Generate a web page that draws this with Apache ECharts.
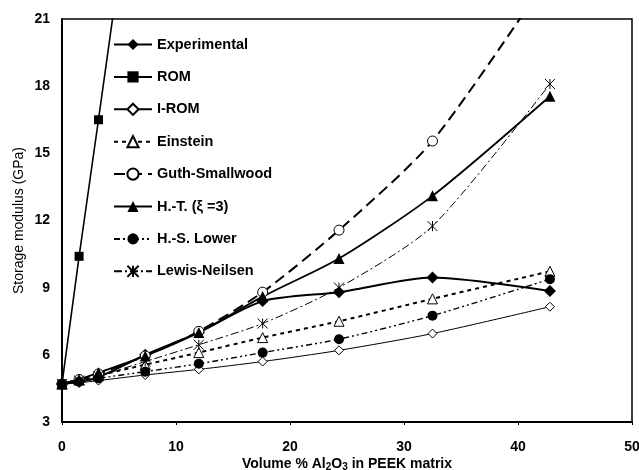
<!DOCTYPE html>
<html>
<head>
<meta charset="utf-8">
<style>
  html, body { margin: 0; padding: 0; background: #fff; }
  #chart { width: 639px; height: 470px; }
</style>
<script src="https://cdn.jsdelivr.net/npm/echarts@6/dist/echarts.min.js"></script>
</head>
<body>
<div id="chart"></div>
<script>
// volume % Al2O3 for each measured / modelled point
var volume = [0, 1.5, 3.2, 7.3, 12, 17.6, 24.3, 32.5, 42.8];

// storage modulus (GPa)
var experimental = [4.7, 4.8, 5.0, 6.0, 7.0, 8.4, 8.8, 9.45, 8.85];
var rom = [4.7, 10.4, 16.5, 31.5];
var irom = [4.7, 4.75, 4.85, 5.1, 5.35, 5.7, 6.2, 6.95, 8.15];
var einstein = [4.7, 4.88, 5.08, 5.56, 6.1, 6.77, 7.5, 8.5, 9.73];
var guth = [4.7, 4.9, 5.15, 5.95, 7.05, 8.8, 11.57, 15.55, 23.0];
var halpin = [4.7, 4.9, 5.2, 5.95, 7.0, 8.6, 10.3, 13.1, 17.55];
var hsLower = [4.7, 4.8, 4.95, 5.25, 5.6, 6.1, 6.7, 7.75, 9.38];
var lewis = [4.7, 4.85, 5.05, 5.7, 6.45, 7.4, 9.0, 11.75, 18.1];

var xTicks = [0, 10, 20, 30, 40, 50];
var yTicks = [3, 6, 9, 12, 15, 18, 21];

var font = 'Liberation Sans, Arial, sans-serif';
var asterisk = 'path://M0,0L10,10M10,0L0,10M5,0L5,10';

function pairs(vals) {
  return vals.map(function (v, i) { return [volume[i], v]; });
}

function line(name, vals, opt) {
  return {
    name: name,
    type: 'line',
    data: pairs(vals),
    smooth: opt.smooth === undefined ? 0.25 : opt.smooth,
    symbol: opt.symbol,
    symbolSize: opt.size,
    clip: true,
    lineStyle: { color: '#000', width: opt.width, type: opt.dash || 'solid' },
    itemStyle: {
      color: opt.open ? '#fff' : '#000',
      borderColor: '#000',
      borderWidth: opt.open ? 1 : 0
    },
    emphasis: { disabled: true }
  };
}

var myChart = echarts.init(document.getElementById('chart'));

myChart.setOption({
  animation: false,
  backgroundColor: '#fff',
  grid: {
    left: 62, right: 7, top: 19, bottom: 48,
    outerBoundsMode: 'none',
    show: true, borderColor: '#000', borderWidth: 1.5
  },
  legend: {
    orient: 'vertical',
    left: 108,
    top: 32,
    itemWidth: 38,
    itemHeight: 14,
    itemGap: 17.4,
    textStyle: { fontFamily: font, fontWeight: 'bold', fontSize: 14.5, color: '#000' },
    data: ['Experimental', 'ROM', 'I-ROM', 'Einstein', 'Guth-Smallwood',
      'H.-T. (ξ =3)', 'H.-S. Lower', 'Lewis-Neilsen']
  },
  xAxis: {
    type: 'value',
    min: 0, max: 50, interval: 10,
    name: 'Volume % Al{s|2}O{s|3} in PEEK matrix',
    nameLocation: 'middle',
    nameGap: 34,
    nameMoveOverlap: false,
    nameTextStyle: {
      fontFamily: font, fontWeight: 'bold', fontSize: 14, color: '#000',
      rich: { s: { fontFamily: font, fontWeight: 'bold', fontSize: 10, color: '#000', padding: [6, 0, 0, 0] } }
    },
    axisLine: { lineStyle: { color: '#000', width: 2 } },
    axisTick: { show: true, length: 3, lineStyle: { color: '#000' } },
    splitLine: { show: false },
    axisLabel: {
      margin: 18,
      fontFamily: font, fontWeight: 'bold', fontSize: 14, color: '#000',
      customValues: xTicks
    }
  },
  yAxis: {
    type: 'value',
    min: 3, max: 21, interval: 3,
    name: 'Storage modulus (GPa)',
    nameLocation: 'middle',
    nameGap: 36,
    nameMoveOverlap: false,
    nameTextStyle: { fontFamily: font, fontSize: 14, color: '#000' },
    axisLine: { show: true, lineStyle: { color: '#000', width: 2 } },
    axisTick: { show: false },
    splitLine: { show: false },
    axisLabel: {
      margin: 12,
      fontFamily: font, fontWeight: 'bold', fontSize: 14, color: '#000',
      customValues: yTicks
    }
  },
  series: [
    line('Experimental', experimental, { symbol: 'diamond', size: 12, width: 2 }),
    line('ROM', rom, { symbol: 'rect', size: 9, width: 1.6, smooth: false }),
    line('I-ROM', irom, { symbol: 'diamond', size: 9, width: 1, open: true }),
    line('Einstein', einstein, { symbol: 'triangle', size: 10, width: 2, dash: [4, 4], open: true }),
    line('Guth-Smallwood', guth, { symbol: 'circle', size: 10, width: 2, dash: [11, 6], open: true }),
    line('H.-T. (ξ =3)', halpin, { symbol: 'triangle', size: 11, width: 1.8 }),
    line('H.-S. Lower', hsLower, { symbol: 'circle', size: 10, width: 1.4, dash: [6, 3, 2, 3, 2, 3] }),
    line('Lewis-Neilsen', lewis, { symbol: asterisk, size: 10, width: 1, dash: [8, 3, 2, 3], open: true })
  ]
});
</script>
</body>
</html>
